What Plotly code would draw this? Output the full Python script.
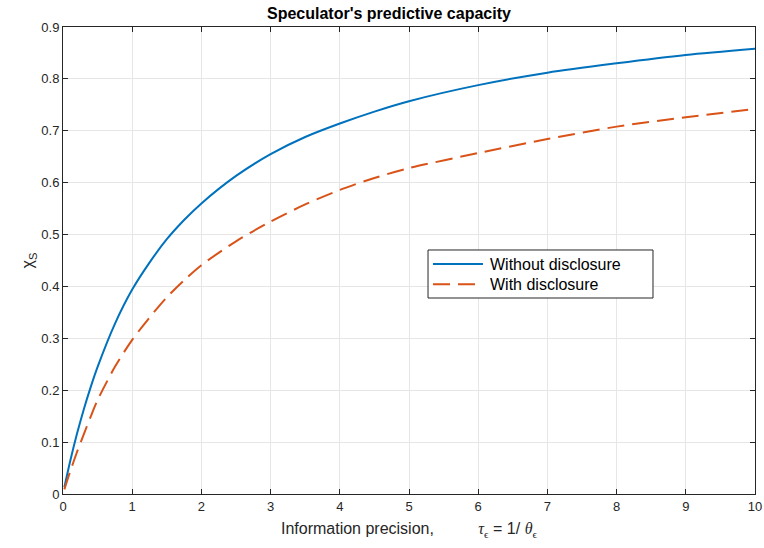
import plotly.graph_objects as go

# Information precision (tau_epsilon)
precision = [0.02, 0.1, 0.2, 0.3, 0.4, 0.5, 0.75, 1, 1.25, 1.5, 1.75, 2, 2.5, 3, 3.5,
             4, 4.5, 5, 6, 7, 8, 9, 10]

# Speculator's predictive capacity chi_S
chi_without = [0.013, 0.061, 0.115, 0.163, 0.206, 0.245, 0.328, 0.394, 0.446, 0.491, 0.528,
               0.560, 0.613, 0.655, 0.688, 0.714, 0.737, 0.757, 0.788, 0.812, 0.830, 0.846, 0.858]
chi_with = [0.009, 0.042, 0.080, 0.115, 0.149, 0.181, 0.245, 0.297, 0.340, 0.379, 0.412,
            0.441, 0.487, 0.525, 0.558, 0.586, 0.609, 0.628, 0.657, 0.684, 0.708, 0.726, 0.742]

series_names = ["Without disclosure", "With disclosure"]
series_colors = ["#0072BD", "#D95319"]
series_dash = ["solid", "17px,8px"]

x_ticks = list(range(0, 11))
y_ticks = [round(0.1 * i, 1) for i in range(10)]

AXIS = "#262626"
GRID = "#e6e6e6"
FONT = "Liberation Sans, Arial, sans-serif"
SERIF = "font-family:'Liberation Serif', 'DejaVu Serif', serif"

fig = go.Figure()
for name, ys, color, dash in zip(series_names, [chi_without, chi_with], series_colors, series_dash):
    fig.add_trace(go.Scatter(x=precision, y=ys, mode="lines", name=name, showlegend=False,
                             line=dict(color=color, width=2, dash=dash, shape="spline",
                                       smoothing=0.8)))

axis_common = dict(showline=True, linecolor=AXIS, linewidth=1, mirror="ticks",
                   ticks="inside", ticklen=5, tickcolor=AXIS, showgrid=True,
                   gridcolor=GRID, gridwidth=1, zeroline=False, automargin=False,
                   tickfont=dict(family=FONT, size=13, color=AXIS))

x_title = (f"Information precision,          <span style=\"{SERIF}\"><i>τ</i></span>"
           f"<sub><span style=\"{SERIF}\">ϵ</span></sub> = 1/ "
           f"<span style=\"{SERIF}\"><i>θ</i></span><sub><span style=\"{SERIF}\">ϵ</span></sub>")

fig.update_xaxes(range=[0, 10], tickvals=x_ticks, ticktext=[str(v) for v in x_ticks],
                 title=dict(text=x_title, font=dict(family=FONT, size=16, color=AXIS), standoff=10),
                 **axis_common)
fig.update_yaxes(range=[0, 0.9], tickvals=y_ticks, ticktext=[("0" if v == 0 else f"{v:g}") for v in y_ticks],
                 title=dict(text="χ<sub>S</sub>", font=dict(family=FONT, size=16, color=AXIS), standoff=3),
                 **axis_common)

# Legend box drawn in plot-area (paper) coordinates
lg_x0, lg_x1, lg_y0, lg_y1 = 0.5275, 0.8526, 0.4197, 0.5225
row_y = [0.4925, 0.4490]
sample_x0, sample_x1, text_x = 0.5347, 0.6069, 0.6142

shapes = [dict(type="rect", xref="paper", yref="paper", x0=lg_x0, x1=lg_x1, y0=lg_y0, y1=lg_y1,
               line=dict(color=AXIS, width=1), fillcolor="white", layer="above")]
annotations = []
for name, color, dash, yy in zip(series_names, series_colors, series_dash, row_y):
    shapes.append(dict(type="line", xref="paper", yref="paper", x0=sample_x0, x1=sample_x1,
                       y0=yy, y1=yy, line=dict(color=color, width=2, dash=dash), layer="above"))
    annotations.append(dict(xref="paper", yref="paper", x=text_x, y=yy, xanchor="left",
                            yanchor="middle", text=name, showarrow=False,
                            font=dict(family=FONT, size=16, color="black")))

fig.update_layout(
    width=764, height=548,
    margin=dict(l=63, r=9, t=27, b=54),
    paper_bgcolor="white", plot_bgcolor="white",
    title=dict(text="<b>Speculator's predictive capacity</b>", xref="paper", x=0.471,
               xanchor="center", yref="container", y=0.976, yanchor="middle",
               font=dict(family=FONT, size=16, color="black")),
    shapes=shapes,
    annotations=annotations,
    showlegend=False,
)

fig.write_html("out.html")
